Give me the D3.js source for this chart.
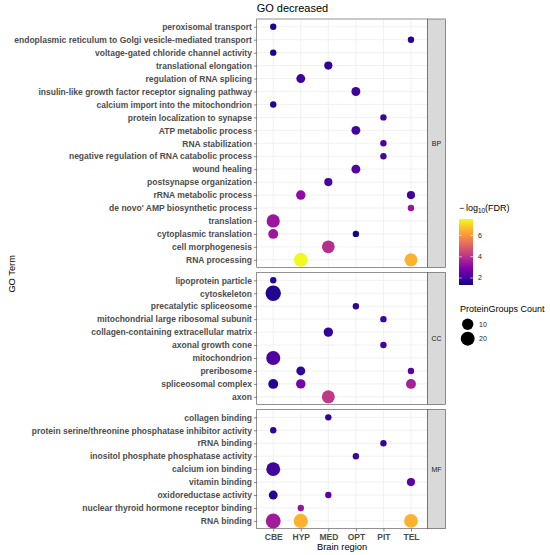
<!DOCTYPE html>
<html>
<head>
<meta charset="utf-8">
<script src="https://cdn.jsdelivr.net/npm/d3@7"></script>
<style>
  html, body { margin: 0; padding: 0; background: #fff; }
  svg { display: block; font-family: "Liberation Sans", Arial, Helvetica, sans-serif; }
</style>
</head>
<body>
<svg id="chart" width="550" height="555"></svg>
<script>
// ---------------- DATA ----------------
const regions = ["CBE", "HYP", "MED", "OPT", "PIT", "TEL"];
const ontologies = ["BP", "CC", "MF"];

const bpTerms = [
  "peroxisomal transport",
  "endoplasmic reticulum to Golgi vesicle-mediated transport",
  "voltage-gated chloride channel activity",
  "translational elongation",
  "regulation of RNA splicing",
  "insulin-like growth factor receptor signaling pathway",
  "calcium import into the mitochondrion",
  "protein localization to synapse",
  "ATP metabolic process",
  "RNA stabilization",
  "negative regulation of RNA catabolic process",
  "wound healing",
  "postsynapse organization",
  "rRNA metabolic process",
  "de novo' AMP biosynthetic process",
  "translation",
  "cytoplasmic translation",
  "cell morphogenesis",
  "RNA processing"
];
const ccTerms = [
  "lipoprotein particle",
  "cytoskeleton",
  "precatalytic spliceosome",
  "mitochondrial large ribosomal subunit",
  "collagen-containing extracellular matrix",
  "axonal growth cone",
  "mitochondrion",
  "preribosome",
  "spliceosomal complex",
  "axon"
];
const mfTerms = [
  "collagen binding",
  "protein serine/threonine phosphatase inhibitor activity",
  "rRNA binding",
  "inositol phosphate phosphatase activity",
  "calcium ion binding",
  "vitamin binding",
  "oxidoreductase activity",
  "nuclear thyroid hormone receptor binding",
  "RNA binding"
];

// [term, region, ProteinGroups count, -log10(FDR)]
const bpPoints = [
  ["peroxisomal transport", "CBE", 2, 1.5],
  ["endoplasmic reticulum to Golgi vesicle-mediated transport", "TEL", 2, 1.6],
  ["voltage-gated chloride channel activity", "CBE", 2, 1.5],
  ["translational elongation", "MED", 3, 1.7],
  ["regulation of RNA splicing", "HYP", 4, 1.9],
  ["insulin-like growth factor receptor signaling pathway", "OPT", 4, 1.9],
  ["calcium import into the mitochondrion", "CBE", 2, 1.55],
  ["protein localization to synapse", "PIT", 2, 1.9],
  ["ATP metabolic process", "OPT", 4, 1.95],
  ["RNA stabilization", "PIT", 2, 2.1],
  ["negative regulation of RNA catabolic process", "PIT", 2, 2.1],
  ["wound healing", "OPT", 4, 2.2],
  ["postsynapse organization", "MED", 3, 2.0],
  ["rRNA metabolic process", "HYP", 5, 3.2],
  ["rRNA metabolic process", "TEL", 3, 1.9],
  ["de novo' AMP biosynthetic process", "TEL", 2, 3.4],
  ["translation", "CBE", 17, 3.4],
  ["cytoplasmic translation", "CBE", 6, 3.45],
  ["cytoplasmic translation", "OPT", 2, 1.34],
  ["cell morphogenesis", "MED", 15, 3.9],
  ["RNA processing", "HYP", 20, 7.55],
  ["RNA processing", "TEL", 16, 6.5]
];
const ccPoints = [
  ["lipoprotein particle", "CBE", 2, 1.6],
  ["cytoskeleton", "CBE", 28, 1.55],
  ["precatalytic spliceosome", "OPT", 2, 1.7],
  ["mitochondrial large ribosomal subunit", "PIT", 2, 1.9],
  ["collagen-containing extracellular matrix", "MED", 5, 1.75],
  ["axonal growth cone", "PIT", 2, 1.95],
  ["mitochondrion", "CBE", 21, 2.15],
  ["preribosome", "HYP", 4, 1.75],
  ["preribosome", "TEL", 2, 2.25],
  ["spliceosomal complex", "CBE", 6, 1.6],
  ["spliceosomal complex", "HYP", 5, 2.8],
  ["spliceosomal complex", "TEL", 6, 3.6],
  ["axon", "MED", 16, 4.15]
];
const mfPoints = [
  ["collagen binding", "MED", 2, 1.7],
  ["protein serine/threonine phosphatase inhibitor activity", "CBE", 2, 1.7],
  ["rRNA binding", "PIT", 2, 1.8],
  ["inositol phosphate phosphatase activity", "OPT", 2, 1.9],
  ["calcium ion binding", "CBE", 20, 1.95],
  ["vitamin binding", "TEL", 3, 2.35],
  ["oxidoreductase activity", "CBE", 4, 1.6],
  ["oxidoreductase activity", "MED", 2, 2.35],
  ["nuclear thyroid hormone receptor binding", "HYP", 2, 3.3],
  ["RNA binding", "CBE", 25, 3.5],
  ["RNA binding", "HYP", 22, 6.5],
  ["RNA binding", "TEL", 19, 6.5]
];

const fdrTicks = [2, 4, 6];
const countTicks = [10, 20];
const fdrRange = [1.34, 7.55];
const countRange = [2, 28];

// ---------------- LAYOUT ----------------
const svg = d3.select("#chart");
const panelLeft = 256.7, panelRight = 427.5;
const stripW = 18;
const top0 = 19, bottom0 = 528.7, gap = 5;

const panels = [
  { name: "BP", terms: bpTerms, points: bpPoints },
  { name: "CC", terms: ccTerms, points: ccPoints },
  { name: "MF", terms: mfTerms, points: mfPoints }
];
const totalUnits = d3.sum(panels, p => p.terms.length - 1 + 1.2);
const unitY = (bottom0 - top0 - gap * (panels.length - 1)) / totalUnits;
let cursor = top0;
panels.forEach(p => {
  p.top = cursor;
  p.bottom = cursor + unitY * (p.terms.length - 1 + 1.2);
  cursor = p.bottom + gap;
});

const x = d3.scalePoint().domain(regions).range([panelLeft, panelRight]).padding(0.6);
const color = d3.scaleSequential(d3.interpolatePlasma).domain(fdrRange);
const rMin = 3.2, rMax = 7.7;
const radius = c => rMin + (rMax - rMin) * Math.sqrt((c - countRange[0]) / (countRange[1] - countRange[0]));

const axisTextColor = "#4D4D4D";
const borderColor = "#4a4a4a";

// Title
svg.append("text")
  .attr("x", panelLeft).attr("y", 11.7)
  .attr("font-size", 11).attr("fill", "#000")
  .text("GO decreased");

panels.forEach(p => {
  const y = d3.scalePoint().domain(p.terms).range([p.top, p.bottom]).padding(0.6);
  const g = svg.append("g");

  g.append("rect").attr("x", panelLeft).attr("y", p.top)
    .attr("width", panelRight - panelLeft).attr("height", p.bottom - p.top)
    .attr("fill", "#fff");

  g.selectAll("line.gx").data(regions).join("line")
    .attr("x1", d => x(d)).attr("x2", d => x(d))
    .attr("y1", p.top).attr("y2", p.bottom)
    .attr("stroke", "#EBEBEB").attr("stroke-width", 0.7);
  g.selectAll("line.gy").data(p.terms).join("line")
    .attr("y1", d => y(d)).attr("y2", d => y(d))
    .attr("x1", panelLeft).attr("x2", panelRight)
    .attr("stroke", "#EBEBEB").attr("stroke-width", 0.7);

  g.selectAll("circle").data(p.points).join("circle")
    .attr("cx", d => x(d[1]))
    .attr("cy", d => y(d[0]))
    .attr("r", d => radius(d[2]))
    .attr("fill", d => color(d[3]));

  g.append("rect").attr("x", panelLeft).attr("y", p.top)
    .attr("width", panelRight - panelLeft).attr("height", p.bottom - p.top)
    .attr("fill", "none").attr("stroke", borderColor).attr("stroke-width", 0.6);

  const yAxis = d3.axisLeft(y).tickSize(2.8).tickPadding(2);
  const ya = svg.append("g").attr("transform", `translate(${panelLeft},0)`).call(yAxis);
  ya.select(".domain").remove();
  ya.selectAll(".tick line").attr("stroke", "#333").attr("stroke-width", 0.6);
  ya.selectAll(".tick text")
    .attr("font-family", "Liberation Sans, Arial, sans-serif")
    .attr("font-size", 8.5).attr("font-weight", "bold")
    .attr("fill", axisTextColor);

  svg.append("rect").attr("x", panelRight).attr("y", p.top)
    .attr("width", stripW).attr("height", p.bottom - p.top)
    .attr("fill", "#D9D9D9").attr("stroke", borderColor).attr("stroke-width", 0.6);
  svg.append("text")
    .attr("x", panelRight + stripW / 2).attr("y", (p.top + p.bottom) / 2)
    .attr("dy", "0.35em").attr("text-anchor", "middle")
    .attr("font-size", 7).attr("fill", "#1A1A1A")
    .text(p.name);
});

const lastPanel = panels[panels.length - 1];
const xAxis = d3.axisBottom(x).tickSize(2.8).tickPadding(2);
const xa = svg.append("g").attr("transform", `translate(0,${lastPanel.bottom})`).call(xAxis);
xa.select(".domain").remove();
xa.selectAll(".tick line").attr("stroke", "#333").attr("stroke-width", 0.6);
xa.selectAll(".tick text")
  .attr("font-family", "Liberation Sans, Arial, sans-serif")
  .attr("font-size", 8.5).attr("font-weight", "bold")
  .attr("fill", axisTextColor);

svg.append("text")
  .attr("x", (panelLeft + panelRight) / 2).attr("y", 550)
  .attr("text-anchor", "middle").attr("font-size", 9.3).attr("fill", "#000")
  .text("Brain region");
svg.append("text")
  .attr("transform", `translate(15.3,${(top0 + bottom0) / 2}) rotate(-90)`)
  .attr("text-anchor", "middle").attr("font-size", 9.3).attr("fill", "#000")
  .text("GO Term");

// ---------------- LEGENDS ----------------
const legX = 459;
const cbTop = 219, cbBottom = 285, cbW = 14;
const cbY = d3.scaleLinear().domain(fdrRange).range([cbBottom, cbTop]);
const defs = svg.append("defs");
const grad = defs.append("linearGradient").attr("id", "plasmaGrad")
  .attr("x1", 0).attr("y1", 1).attr("x2", 0).attr("y2", 0);
d3.range(0, 1.0001, 0.05).forEach(t => {
  grad.append("stop").attr("offset", t).attr("stop-color", d3.interpolatePlasma(t));
});
const lt = svg.append("text").attr("x", legX).attr("y", 210.7).attr("font-size", 9).attr("fill", "#000");
lt.append("tspan").text("\u2212\u2009log");
lt.append("tspan").attr("font-size", 6.3).attr("dy", 2).text("10");
lt.append("tspan").attr("dy", -2).text("(FDR)");

svg.append("rect").attr("x", legX).attr("y", cbTop).attr("width", cbW).attr("height", cbBottom - cbTop)
  .attr("fill", "url(#plasmaGrad)");
fdrTicks.forEach(v => {
  const yy = cbY(v);
  svg.append("line").attr("x1", legX).attr("x2", legX + 2.8).attr("y1", yy).attr("y2", yy)
    .attr("stroke", "#fff").attr("stroke-width", 0.6);
  svg.append("line").attr("x1", legX + cbW - 2.8).attr("x2", legX + cbW).attr("y1", yy).attr("y2", yy)
    .attr("stroke", "#fff").attr("stroke-width", 0.6);
  svg.append("text").attr("x", legX + cbW + 5).attr("y", yy).attr("dy", "0.35em")
    .attr("font-size", 7).attr("fill", "#1A1A1A").text(v);
});

svg.append("text").attr("x", legX + 1).attr("y", 312).attr("font-size", 9).attr("fill", "#000")
  .text("ProteinGroups Count");
const sizeY = d3.scalePoint().domain(countTicks).range([324.3, 338.7]);
countTicks.forEach(v => {
  svg.append("circle").attr("cx", 467.7).attr("cy", sizeY(v)).attr("r", radius(v)).attr("fill", "#000");
  svg.append("text").attr("x", 479).attr("y", sizeY(v)).attr("dy", "0.35em")
    .attr("font-size", 7).attr("fill", "#1A1A1A").text(v);
});
</script>
</body>
</html>
